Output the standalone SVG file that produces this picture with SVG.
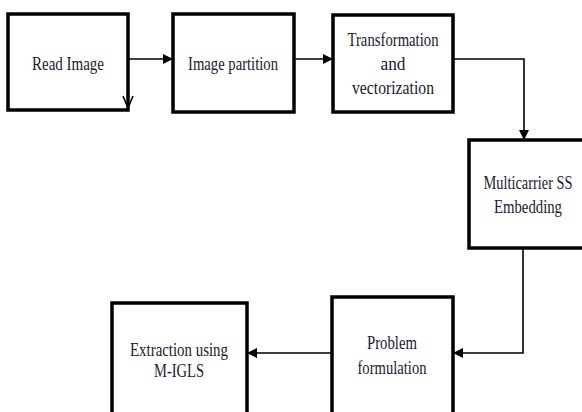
<svg xmlns="http://www.w3.org/2000/svg" width="582" height="412" viewBox="0 0 582 412">
<defs>
<marker id="ah" viewBox="0 0 10 10" refX="10" refY="5" markerWidth="10" markerHeight="10" markerUnits="userSpaceOnUse" orient="auto">
<path d="M0,0 L10,5 L0,10 Z" fill="#000"/>
</marker>
</defs>
<style>
.box{fill:#fff;stroke:#000;stroke-width:3.5}
.lbl{font-family:"Liberation Serif","Times New Roman",serif;font-size:18px;fill:#1a1a2e;text-anchor:middle}
.con{fill:none;stroke:#000;stroke-width:1.6}
</style>
<rect width="582" height="412" fill="#fff"/>
<g id="connectors">
<path class="con" d="M128,59 H173" marker-end="url(#ah)"/>
<path class="con" d="M294,59 H333" marker-end="url(#ah)"/>
<path class="con" d="M453,59 H524 V140" marker-end="url(#ah)"/>
<path class="con" d="M523,248 V353 H453" marker-end="url(#ah)"/>
<path class="con" d="M332,353 H247" marker-end="url(#ah)"/>
</g>
<g id="n1">
<rect class="box" x="8" y="14" width="120" height="96"/>
<text class="lbl" x="68" y="70" textLength="72" lengthAdjust="spacingAndGlyphs">Read Image</text>
<path class="con" d="M123,96 L128,108 L133,96" stroke-width="1.8"/>
</g>
<g id="n2">
<rect class="box" x="173" y="14" width="121" height="98"/>
<text class="lbl" x="233" y="70" textLength="90" lengthAdjust="spacingAndGlyphs">Image partition</text>
</g>
<g id="n3">
<rect class="box" x="333" y="15" width="120" height="97"/>
<text class="lbl" x="393" y="46" textLength="91" lengthAdjust="spacingAndGlyphs">Transformation</text>
<text class="lbl" x="393" y="70" textLength="25" lengthAdjust="spacingAndGlyphs">and</text>
<text class="lbl" x="393" y="94" textLength="82" lengthAdjust="spacingAndGlyphs">vectorization</text>
</g>
<g id="n4">
<rect class="box" x="469" y="140" width="120" height="108"/>
<text class="lbl" transform="translate(528,189) scale(0.8,1)" x="0" y="0">Multicarrier SS</text>
<text class="lbl" x="528" y="213" textLength="68" lengthAdjust="spacingAndGlyphs">Embedding</text>
</g>
<g id="n5">
<rect class="box" x="332" y="297" width="121" height="130"/>
<text class="lbl" x="392" y="349" textLength="50" lengthAdjust="spacingAndGlyphs">Problem</text>
<text class="lbl" x="392" y="374" textLength="69" lengthAdjust="spacingAndGlyphs">formulation</text>
</g>
<g id="n6">
<rect class="box" x="112" y="303" width="135" height="124"/>
<text class="lbl" x="179" y="356" textLength="98" lengthAdjust="spacingAndGlyphs">Extraction using</text>
<text class="lbl" x="179" y="377" textLength="50" lengthAdjust="spacingAndGlyphs">M-IGLS</text>
</g>
</svg>
